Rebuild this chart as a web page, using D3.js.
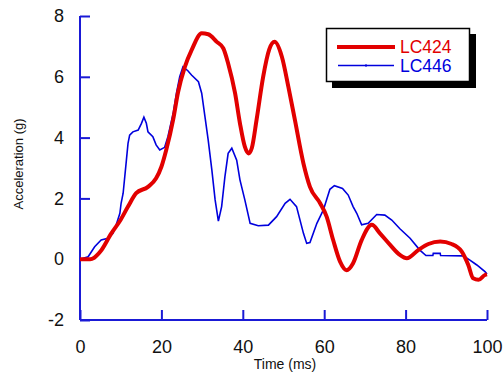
<!DOCTYPE html>
<html>
<head>
<meta charset="utf-8">
<script src="https://cdn.jsdelivr.net/npm/d3@7"></script>
<style>
  html, body { margin: 0; padding: 0; background: #fff; }
  svg { display: block; font-family: "Liberation Sans", Arial, sans-serif; }
</style>
</head>
<body>
<svg id="chart" width="504" height="373"></svg>
<script>
// ---- data ----
const seriesNames = ["LC424", "LC446"];
const xTicks = [0, 20, 40, 60, 80, 100];
const yTicks = [-2, 0, 2, 4, 6, 8];

const lc424Time = [0, 2.5, 3.5, 5, 7.7, 10, 11.8, 13.8, 16.7, 18.7, 20.0, 21.2, 22.9, 24.1, 25.7, 27.5, 29.9, 31.5, 33.6, 35.2, 36.4, 38.1, 39.3, 40.5, 41.4, 42.2, 43.4, 45.0, 46.5, 47.8, 49.6, 51.2, 52.8, 54.9, 56.5, 59.0, 60.6, 62.2, 63.9, 65.5, 67.1, 69.2, 71.7, 73.7, 76.2, 78.6, 80.3, 83.1, 85.6, 88.5, 91.3, 93.8, 95.4, 96.6, 97.9, 99.5, 100];
const lc424Accel = [0, 0, 0.05, 0.25, 0.85, 1.3, 1.73, 2.17, 2.38, 2.66, 3.04, 3.6, 4.6, 5.5, 6.3, 6.9, 7.43, 7.4, 7.15, 6.94, 6.44, 5.46, 4.47, 3.70, 3.48, 3.65, 4.6, 6.0, 6.9, 7.15, 6.66, 5.67, 4.58, 3.15, 2.38, 1.84, 1.40, 0.63, -0.08, -0.36, -0.13, 0.63, 1.13, 0.85, 0.47, 0.14, 0.03, 0.30, 0.50, 0.58, 0.50, 0.25, -0.19, -0.63, -0.68, -0.52, -0.5];

const lc446Time = [0, 2, 3.6, 5.2, 6.9, 8.1, 8.9, 9.8, 10.1, 10.6, 11.4, 11.8, 12.2, 13, 14.3, 15.1, 15.7, 16.3, 16.7, 17.9, 18.7, 19.6, 20.8, 21.6, 22.9, 23.7, 24.5, 25.3, 26.5, 27.4, 29.1, 29.9, 30.7, 31.5, 32.4, 33.2, 34.0, 34.8, 35.6, 36.4, 37.3, 38.5, 39.3, 40.5, 41.8, 43.8, 46.3, 48.3, 50.4, 51.6, 53.2, 54.9, 55.7, 56.5, 58.2, 59.8, 61.4, 62.5, 64.5, 65.9, 67.1, 68.0, 69.2, 70.8, 72.9, 74.9, 76.6, 78.6, 81.1, 83.5, 85.0, 86.7, 86.8, 88.5, 88.6, 94.2, 95.8, 97.5, 99.5, 100];
const lc446Accel = [0, 0.08, 0.41, 0.63, 0.69, 0.85, 1.13, 1.51, 1.84, 2.17, 3.26, 3.81, 4.08, 4.19, 4.25, 4.47, 4.67, 4.47, 4.19, 4.03, 3.76, 3.59, 3.68, 4.03, 4.80, 5.46, 6.0, 6.33, 6.2, 6.06, 5.84, 5.46, 4.69, 3.92, 2.93, 1.95, 1.25, 1.73, 2.71, 3.48, 3.65, 3.26, 2.61, 1.95, 1.18, 1.1, 1.12, 1.40, 1.84, 1.97, 1.73, 0.85, 0.52, 0.55, 1.18, 1.62, 2.3, 2.42, 2.33, 2.11, 1.73, 1.51, 1.13, 1.18, 1.47, 1.45, 1.29, 1.0, 0.69, 0.30, 0.12, 0.12, 0.19, 0.19, 0.12, 0.11, -0.03, -0.19, -0.41, -0.49];

// ---- layout ----
const RED = "#e20000", BLUE = "#0000dd", AXIS = "#1a1ad6";
const svg = d3.select("#chart");
const x = d3.scaleLinear().domain([0, 100]).range([80, 487]);
const y = d3.scaleLinear().domain([-2, 8]).range([320, 16]);

// axes
const xAxis = d3.axisBottom(x).tickValues(xTicks).tickSize(-10).tickPadding(20).tickFormat(d => String(d));
const yAxis = d3.axisLeft(y).tickValues(yTicks).tickSize(-10).tickPadding(16).tickFormat(d => String(d));

const gx = svg.append("g").attr("transform", "translate(0,320)").call(xAxis);
const gy = svg.append("g").attr("transform", "translate(80,0)").call(yAxis);
[gx, gy].forEach(g => {
  g.select(".domain").attr("stroke", AXIS).attr("stroke-width", 2);
  g.selectAll(".tick line").attr("stroke", AXIS).attr("stroke-width", 2);
  g.selectAll(".tick text").attr("fill", "#111").attr("font-size", 18)
    .attr("font-family", "Liberation Sans, Arial, sans-serif");
});
gx.select(".domain").attr("d", `M${x(0)},0H${x(100)}`);
gy.select(".domain").attr("d", `M0,${y(-2)}V${y(8)}`);

// axis titles
svg.append("text").attr("x", 285).attr("y", 369).attr("text-anchor", "middle")
  .attr("font-size", 14).attr("fill", "#111").text("Time (ms)");
svg.append("text").attr("transform", "translate(23,164) rotate(-90)").attr("text-anchor", "middle")
  .attr("font-size", 13).attr("fill", "#111").text("Acceleration (g)");

// lines
const redData = lc424Time.map((t, i) => [t, lc424Accel[i]]);
const blueData = lc446Time.map((t, i) => [t, lc446Accel[i]]);

svg.append("path").datum(blueData)
  .attr("fill", "none").attr("stroke", BLUE).attr("stroke-width", 1.6)
  .attr("d", d3.line().x(d => x(d[0])).y(d => y(d[1])).curve(d3.curveLinear));
svg.append("path").datum(redData)
  .attr("fill", "none").attr("stroke", RED).attr("stroke-width", 4).attr("stroke-linejoin", "round")
  .attr("d", d3.line().x(d => x(d[0])).y(d => y(d[1])).curve(d3.curveMonotoneX));

// legend
const lg = svg.append("g");
lg.append("rect").attr("x", 332).attr("y", 34).attr("width", 144).attr("height", 54).attr("fill", "#000");
lg.append("rect").attr("x", 326.5).attr("y", 28.5).attr("width", 143).attr("height", 53)
  .attr("fill", "#fff").attr("stroke", "#000").attr("stroke-width", 1.5);
lg.append("line").attr("x1", 337).attr("x2", 395).attr("y1", 47).attr("y2", 47)
  .attr("stroke", RED).attr("stroke-width", 4);
lg.append("line").attr("x1", 338).attr("x2", 394).attr("y1", 65.5).attr("y2", 65.5)
  .attr("stroke", BLUE).attr("stroke-width", 1.6);
lg.append("rect").attr("x", 365).attr("y", 64.5).attr("width", 2).attr("height", 2).attr("fill", BLUE);
lg.selectAll("text.leg").data(seriesNames).join("text")
  .attr("class", "leg")
  .attr("x", 400).attr("y", (d, i) => 52.5 + i * 19)
  .attr("font-size", 17.5)
  .attr("fill", (d, i) => i === 0 ? RED : BLUE)
  .text(d => d);
</script>
</body>
</html>
